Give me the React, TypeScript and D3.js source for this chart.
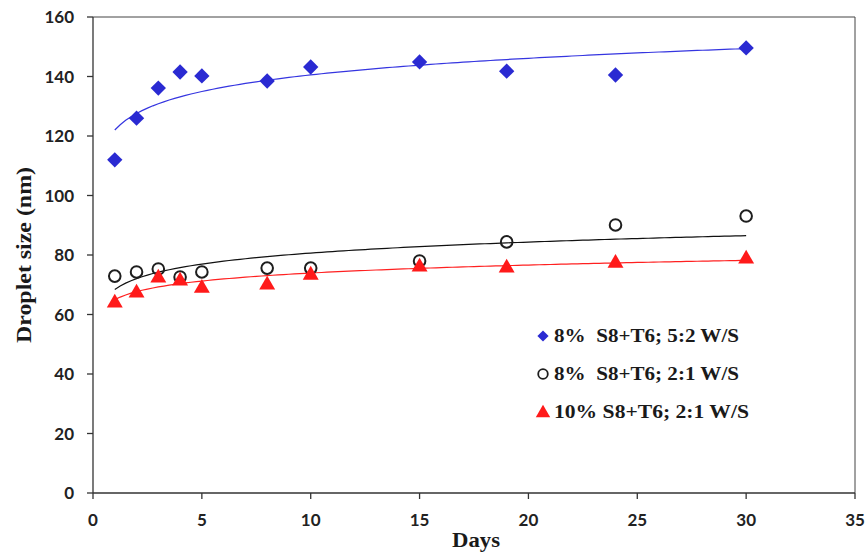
import React from "react";
import * as d3 from "d3";

// Storage time (days)
const days = [1, 2, 3, 4, 5, 8, 10, 15, 19, 24, 30];
// Droplet size (nm) for each formulation
const s8t6_52 = [112, 126, 136.1, 141.5, 140.2, 138.5, 143.2, 144.9, 141.8, 140.5, 149.6];
const s8t6_21 = [72.9, 74.3, 75.3, 72.6, 74.3, 75.6, 75.6, 78.0, 84.4, 90.1, 93.1];
const s10t6_21 = [64.2, 67.6, 72.6, 71.6, 69.2, 70.3, 73.6, 76.3, 76.0, 77.6, 79.0];

const seriesNames = ["8%  S8+T6; 5:2 W/S", "8%  S8+T6; 2:1 W/S", "10% S8+T6; 2:1 W/S"];
const legendWidths = [185, 185, 195];
const xTicks = [0, 5, 10, 15, 20, 25, 30, 35];
const yTicks = [0, 20, 40, 60, 80, 100, 120, 140, 160];

const W = 866;
const H = 553;
const M = { left: 93, right: 855, top: 17, bottom: 493 };

const x = d3.scaleLinear().domain([0, 35]).range([M.left, M.right]);
const y = d3.scaleLinear().domain([0, 160]).range([M.bottom, M.top]);

// Least-squares logarithmic trend: y = a + b ln(x)
function logFit(xs: number[], ys: number[]) {
  const lx = xs.map((v) => Math.log(v));
  const mx = d3.mean(lx)!;
  const my = d3.mean(ys)!;
  let num = 0;
  let den = 0;
  lx.forEach((v, i) => {
    num += (v - mx) * (ys[i] - my);
    den += (v - mx) * (v - mx);
  });
  const b = num / den;
  const a = my - b * mx;
  return (t: number) => a + b * Math.log(t);
}

const trendXs = d3.range(1, 30.01, 0.25);

const diamond = d3.symbol().type(d3.symbolDiamond2);
const triangle = d3.symbol().type(d3.symbolTriangle);

const BLUE = "#2a2ad2";
const RED = "#ff1a1a";
const DARK = "#1e1e1e";

export default function App() {
  const line = d3
    .line<number>()
    .x((d) => x(d))
    .curve(d3.curveLinear);

  const trends = [
    { ys: s8t6_52, color: "#3535e0" },
    { ys: s8t6_21, color: "#111111" },
    { ys: s10t6_21, color: "#ff2020" },
  ].map((s) => {
    const f = logFit(days, s.ys);
    return { d: line.y((t) => y(f(t)))(trendXs) ?? "", color: s.color };
  });

  const tickFont = { fontFamily: "Lato, 'Open Sans', sans-serif", fontWeight: 700, fontSize: 17, fill: "#222" };
  const serifBold = { fontFamily: "'Liberation Serif', 'Times New Roman', serif", fontWeight: 700, fill: "#1a1a1a" };

  const legendY = [336, 374, 412];

  return (
    <svg
      width={W}
      height={H}
      style={{ position: "absolute", left: 0, top: 0, background: "#fff" }}
    >
      <rect x={0} y={0} width={W} height={H} fill="#fff" />

      {/* plot frame */}
      <path
        d={`M${M.left},${M.top}H${M.right}V${M.bottom}`}
        fill="none"
        stroke="#444"
        strokeWidth={1}
      />
      <line x1={M.left} x2={M.left} y1={M.top} y2={M.bottom} stroke="#333" strokeWidth={1.3} />
      <line x1={M.left} x2={M.right} y1={M.bottom} y2={M.bottom} stroke="#333" strokeWidth={1.3} />

      {/* y axis */}
      {yTicks.map((t) => (
        <g key={"y" + t}>
          <line x1={M.left - 6} x2={M.left} y1={y(t)} y2={y(t)} stroke="#333" strokeWidth={1.3} />
          <text x={74} y={y(t)} dy="0.36em" textAnchor="end" {...tickFont}>
            {t}
          </text>
        </g>
      ))}

      {/* x axis */}
      {xTicks.map((t) => (
        <g key={"x" + t}>
          <line x1={x(t)} x2={x(t)} y1={M.bottom} y2={M.bottom + 6} stroke="#333" strokeWidth={1.3} />
          <text x={x(t)} y={526} textAnchor="middle" {...tickFont}>
            {t}
          </text>
        </g>
      ))}

      <text
        x={452}
        y={547}
        fontSize={21}
        textLength={48}
        lengthAdjust="spacingAndGlyphs"
        {...serifBold}
      >
        Days
      </text>
      <text
        transform={`translate(31,343) rotate(-90)`}
        fontSize={20}
        textLength={176}
        lengthAdjust="spacingAndGlyphs"
        {...serifBold}
      >
        Droplet size (nm)
      </text>

      {/* trend lines */}
      {trends.map((t, i) => (
        <path key={"t" + i} d={t.d} fill="none" stroke={t.color} strokeWidth={1.2} />
      ))}

      {/* markers */}
      {days.map((d, i) => (
        <path
          key={"b" + i}
          transform={`translate(${x(d)},${y(s8t6_52[i])})`}
          d={diamond.size(150)() ?? ""}
          fill={BLUE}
        />
      ))}
      {days.map((d, i) => (
        <circle
          key={"c" + i}
          cx={x(d)}
          cy={y(s8t6_21[i])}
          r={5.8}
          fill="none"
          stroke={DARK}
          strokeWidth={2}
        />
      ))}
      {days.map((d, i) => (
        <path
          key={"r" + i}
          transform={`translate(${x(d)},${y(s10t6_21[i]) + 1})`}
          d={triangle.size(110)() ?? ""}
          fill={RED}
        />
      ))}

      {/* legend */}
      <path transform={`translate(543,${legendY[0]})`} d={diamond.size(80)() ?? ""} fill={BLUE} />
      <circle cx={543} cy={legendY[1]} r={4.8} fill="none" stroke={DARK} strokeWidth={1.8} />
      <path transform={`translate(543,${legendY[2] + 1})`} d={triangle.size(90)() ?? ""} fill={RED} />
      {seriesNames.map((n, i) => (
        <text
          key={"l" + i}
          x={554}
          y={legendY[i]}
          dy="0.36em"
          fontSize={18}
          textLength={legendWidths[i]}
          lengthAdjust="spacingAndGlyphs"
          style={{ whiteSpace: "pre" }}
          {...serifBold}
        >
          {n}
        </text>
      ))}
    </svg>
  );
}
